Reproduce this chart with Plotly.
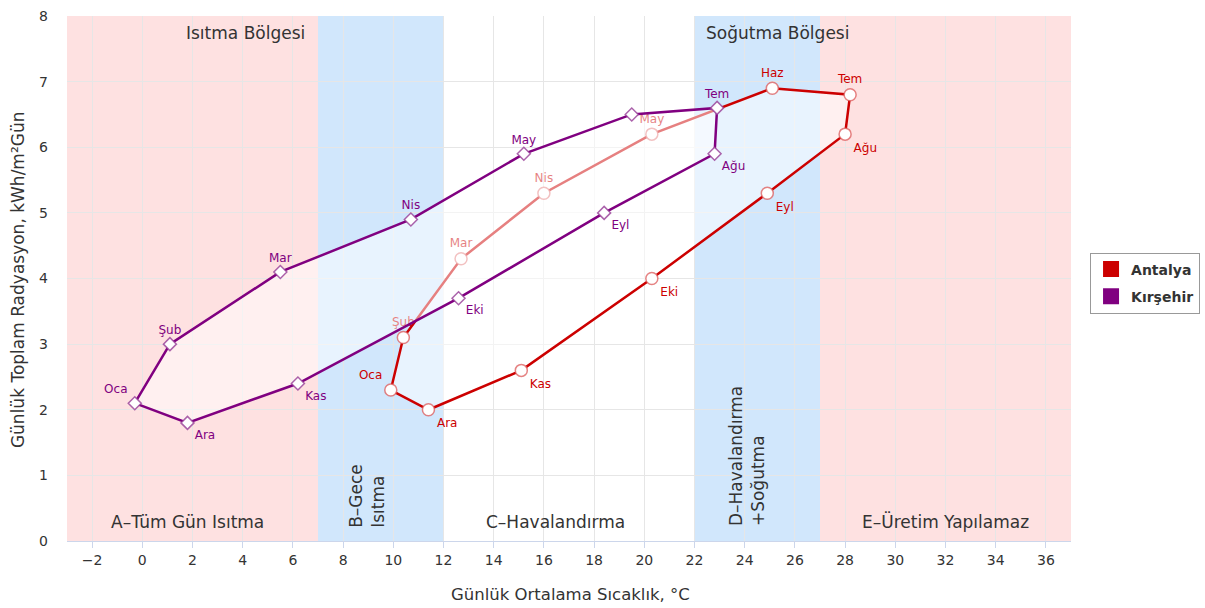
import plotly.graph_objects as go

# Monthly climate data: daily mean temperature (°C) and daily total radiation (kWh/m²·day)
months = ["Oca", "Şub", "Mar", "Nis", "May", "Haz", "Tem", "Ağu", "Eyl", "Eki", "Kas", "Ara"]

antalya_temp = [9.9, 10.4, 12.7, 16.0, 20.3, 25.1, 28.2, 28.0, 24.9, 20.3, 15.1, 11.4]
antalya_rad = [2.3, 3.1, 4.3, 5.3, 6.2, 6.9, 6.8, 6.2, 5.3, 4.0, 2.6, 2.0]

kirsehir_temp = [-0.3, 1.1, 5.5, 10.7, 15.2, 19.5, 22.9, 22.8, 18.4, 12.6, 6.2, 1.8]
kirsehir_rad = [2.1, 3.0, 4.1, 4.9, 5.9, 6.5, 6.6, 5.9, 5.0, 3.7, 2.4, 1.8]
kirsehir_labels = ["Oca", "Şub", "Mar", "Nis", "May", "", "Tem", "Ağu", "Eyl", "Eki", "Kas", "Ara"]

label_pos = ["top left"] + ["top center"] * 6 + ["bottom right"] * 5

# Climate zones along the temperature axis
zone_edges = [-3, 7, 12, 22, 27, 37]
zone_colors = ["#fee1e1", "#d1e7fc", "#ffffff", "#d1e7fc", "#fee1e1"]

FONT = "DejaVu Sans"
RED = "#cc0000"
PURPLE = "#800080"

fig = go.Figure()


def add_series(name, xs, ys, labels, color, symbol, msize, mline):
    # closed outline with a translucent white fill
    fig.add_trace(go.Scatter(
        x=xs + xs[:1], y=ys + ys[:1], mode="lines", fill="toself",
        fillcolor="rgba(255,255,255,0.5)",
        line=dict(color=color, width=2.5), showlegend=False, hoverinfo="skip",
    ))
    fig.add_trace(go.Scatter(
        x=xs, y=ys, mode="markers+text", text=labels, textposition=label_pos,
        textfont=dict(family=FONT, size=12, color=color),
        marker=dict(symbol=symbol, size=msize, color="white",
                    line=dict(color=mline, width=1.5)),
        name=name, showlegend=False,
    ))


add_series("Antalya", antalya_temp, antalya_rad, months, RED, "circle", 12,
           "rgba(220,90,90,0.75)")
add_series("Kırşehir", kirsehir_temp, kirsehir_rad, kirsehir_labels, PURPLE, "diamond", 10,
           "rgba(150,60,150,0.8)")

# legend entries
for name, color in [("Antalya", RED), ("Kırşehir", PURPLE)]:
    fig.add_trace(go.Scatter(
        x=[None], y=[None], mode="markers", name=name, legendgroup=name,
        marker=dict(symbol="square", size=18, color=color),
    ))

shapes = []
for i, c in enumerate(zone_colors):
    shapes.append(dict(type="rect", xref="x", yref="y", x0=zone_edges[i], x1=zone_edges[i + 1],
                       y0=0, y1=8, fillcolor=c, line=dict(width=0), layer="below"))

txt = dict(family=FONT, size=17, color="#333333")
annotations = [
    dict(x=4.1, y=7.74, text="Isıtma Bölgesi", showarrow=False, font=txt),
    dict(x=25.3, y=7.74, text="Soğutma Bölgesi", showarrow=False, font=txt),
    dict(x=1.8, y=0.29, text="A–Tüm Gün Isıtma", showarrow=False, font=txt),
    dict(x=16.45, y=0.29, text="C–Havalandırma", showarrow=False, font=txt),
    dict(x=32.0, y=0.29, text="E–Üretim Yapılamaz", showarrow=False, font=txt),
    dict(x=8.95, y=0.17, yanchor="bottom", text="B–Gece<br>Isıtma", textangle=-90,
         align="left", showarrow=False, font=txt),
    dict(x=24.1, y=0.2, yanchor="bottom", text="D–Havalandırma<br>+Soğutma", textangle=-90,
         align="left", showarrow=False, font=txt),
    dict(xref="paper", yref="paper", x=0.501, y=-0.101, yanchor="middle",
         text="Günlük Ortalama Sıcaklık, °C", showarrow=False,
         font=dict(family=FONT, size=16.5, color="#333333")),
    dict(xref="paper", yref="paper", x=-0.0488, y=0.497, xanchor="center",
         text="Günlük Toplam Radyasyon, kWh/m²Gün", textangle=-90, showarrow=False,
         font=dict(family=FONT, size=17, color="#333333")),
]

fig.update_layout(
    width=1205, height=608,
    margin=dict(l=67, r=134, t=16, b=67),
    paper_bgcolor="white", plot_bgcolor="white",
    shapes=shapes, annotations=annotations,
    font=dict(family=FONT, color="#333333"),
    xaxis=dict(range=[-3, 37], tickmode="array", tickvals=list(range(-2, 37, 2)),
               showgrid=True, gridcolor="#e6e6e6", zeroline=False, automargin=False,
               showline=True, linecolor="#ccd6eb", linewidth=1,
               ticks="outside", tickcolor="#ccd6eb", ticklen=6,
               tickfont=dict(family=FONT, size=14, color="#333333")),
    yaxis=dict(range=[0, 8], tickmode="array", tickvals=list(range(0, 9)),
               showgrid=True, gridcolor="#e6e6e6", zeroline=False, showline=False,
               automargin=False, ticks="", ticklabelstandoff=18,
               tickfont=dict(family=FONT, size=14, color="#333333")),
    legend=dict(xref="container", yref="container", x=0.9046, y=0.5345,
                xanchor="left", yanchor="middle",
                bordercolor="#999999", borderwidth=1, bgcolor="white",
                font=dict(family=FONT, size=14, color="#333333", weight="bold"),
                itemwidth=30, tracegroupgap=6),
    showlegend=True,
)

fig.write_html("out.html")
